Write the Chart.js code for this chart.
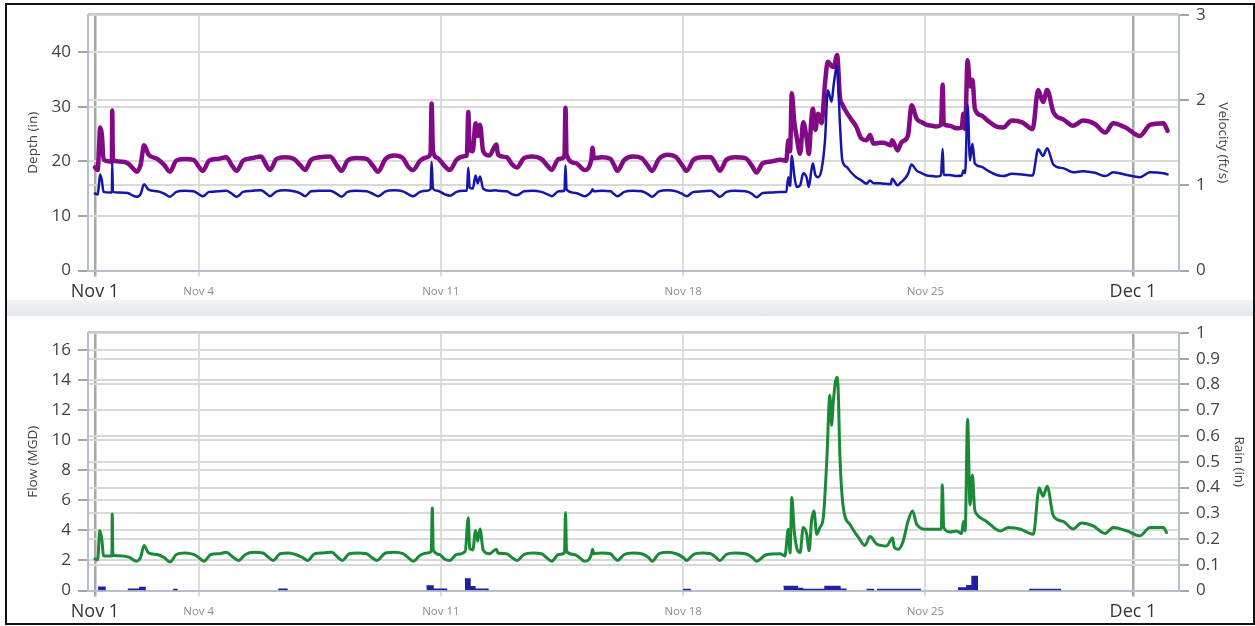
<!DOCTYPE html>
<html>
<head>
<meta charset="utf-8">
<script src="https://cdn.jsdelivr.net/npm/chart.js@4.4.1/dist/chart.umd.min.js"></script>
<style>
  html, body { margin: 0; padding: 0; background: #fff; }
  body { width: 1255px; height: 626px; position: relative; overflow: hidden; }
  #band { position: absolute; left: 7px; top: 300px; width: 1246px; height: 16px; background: linear-gradient(#f2f4f6, #e3e7eb); }
  #frame { position: absolute; left: 5px; top: 3px; width: 1250px; height: 622px; box-sizing: border-box; border: 2px solid #111; }
  canvas { position: absolute; left: 5px; }
  #top { top: 5px; }
  #bottom { top: 315px; }
</style>
</head>
<body>
<div id="band"></div>
<canvas id="top" width="1245" height="295"></canvas>
<canvas id="bottom" width="1245" height="307"></canvas>
<div id="frame"></div>
<script>
// days since Nov 1 00:00
const tickDays = [0, 3, 10, 17, 24, 30];
const tickLabels = ['Nov 1', 'Nov 4', 'Nov 11', 'Nov 18', 'Nov 25', 'Dec 1'];
const majorDays = [0, 30];

const depthTicks = [0, 10, 20, 30, 40];
const velocityTicks = [0, 1, 2, 3];
const flowTicks = [0, 2, 4, 6, 8, 10, 12, 14, 16];
const rainTicks = [0, 0.1, 0.2, 0.3, 0.4, 0.5, 0.6, 0.7, 0.8, 0.9, 1];

// top panel: depth (in) and velocity (ft/s)
const topDays = [
  0, 0.08, 0.12, 0.15, 0.2, 0.25, 0.45, 0.49, 0.5, 0.52,
  0.7, 0.95, 1.1, 1.2, 1.32, 1.42, 1.55, 1.8, 2, 2.17,
  2.35, 2.6, 2.85, 3, 3.12, 3.3, 3.55, 3.8, 3.95, 4.1,
  4.28, 4.55, 4.8, 4.95, 5.06, 5.25, 5.5, 5.75, 5.95, 6.07,
  6.25, 6.5, 6.8, 7, 7.13, 7.3, 7.55, 7.85, 8.05, 8.18,
  8.4, 8.65, 8.9, 9.05, 9.19, 9.4, 9.6, 9.7, 9.73, 9.77,
  9.9, 10.1, 10.26, 10.45, 10.65, 10.75, 10.79, 10.83, 10.92, 11,
  11.06, 11.13, 11.22, 11.4, 11.6, 11.65, 11.9, 12.05, 12.2, 12.4,
  12.65, 12.9, 13.1, 13.2, 13.4, 13.57, 13.6, 13.63, 13.9, 14.15,
  14.35, 14.38, 14.42, 14.65, 14.9, 15, 15.1, 15.3, 15.55, 15.8,
  15.98, 16.1, 16.3, 16.55, 16.8, 16.98, 17.1, 17.3, 17.55, 17.8,
  17.95, 18.06, 18.25, 18.5, 18.8, 19, 19.12, 19.3, 19.55, 19.8,
  19.98, 20.04, 20.09, 20.14, 20.21, 20.28, 20.38, 20.47, 20.57, 20.63,
  20.71, 20.75, 20.82, 20.9, 21, 21.1, 21.18, 21.29, 21.35, 21.45,
  21.53, 21.6, 21.72, 21.85, 22, 22.15, 22.3, 22.4, 22.5, 22.69,
  22.8, 23, 23.04, 23.2, 23.3, 23.36, 23.5, 23.6, 23.75, 23.9,
  24.04, 24.2, 24.32, 24.45, 24.5, 24.53, 24.7, 24.9, 25.05, 25.1,
  25.15, 25.22, 25.29, 25.36, 25.43, 25.62, 25.8, 26.06, 26.25, 26.5,
  26.8, 27.1, 27.26, 27.4, 27.52, 27.7, 28, 28.27, 28.56, 28.9,
  29.2, 29.43, 29.82, 30.2, 30.49, 30.88, 31
];
const depthIn = [
  14.1, 13.9, 16.0, 17.6, 16.5, 14.4, 14.3, 14.3, 19.6, 14.4,
  14.3, 14.2, 13.7, 13.5, 14.0, 15.8, 14.8, 14.5, 14.1, 13.5,
  14.4, 14.6, 14.5, 14.0, 13.6, 14.4, 14.5, 14.6, 14.1, 13.5,
  14.4, 14.6, 14.7, 14.1, 13.6, 14.5, 14.7, 14.5, 14.1, 13.6,
  14.5, 14.6, 14.6, 14.0, 13.5, 14.4, 14.6, 14.5, 14.0, 13.6,
  14.5, 14.7, 14.5, 14.0, 13.6, 14.4, 14.6, 14.9, 19.9, 15.0,
  14.6, 14.0, 13.7, 14.4, 14.6, 14.6, 18.8, 15.2, 15.0, 17.4,
  16.0, 17.2, 15.0, 14.6, 14.7, 14.6, 14.5, 14.0, 13.8, 14.5,
  14.6, 14.4, 13.9, 13.6, 14.5, 14.6, 19.3, 14.8, 14.2, 13.6,
  14.5, 14.9, 14.5, 14.6, 14.5, 14.0, 13.6, 14.4, 14.6, 14.5,
  14.0, 13.5, 14.5, 14.7, 14.5, 14.0, 13.6, 14.4, 14.5, 14.6,
  14.0, 13.5, 14.4, 14.6, 14.5, 14.0, 13.4, 14.2, 14.3, 14.4,
  14.4, 17.1, 15.5, 21.0, 17.5, 15.3, 15.6, 17.8, 17.0, 15.3,
  18.5, 19.6, 17.5, 17.1, 18.5, 23.9, 33.0, 30.9, 34.0, 37.5,
  27.0, 20.2, 19.0, 18.0, 17.1, 16.5, 15.9, 16.5, 16.0, 16.0,
  15.9, 15.8, 16.8, 15.6, 16.2, 16.5, 17.7, 19.4, 18.3, 17.8,
  17.4, 17.3, 17.2, 17.4, 22.3, 17.5, 17.5, 17.3, 17.4, 18.3,
  17.8, 30.3, 20.2, 23.2, 19.6, 19.0, 18.3, 17.5, 17.3, 17.7,
  17.6, 17.4, 22.2, 21.0, 22.4, 19.4, 18.7, 18.0, 18.2, 17.9,
  17.3, 18.0, 17.5, 17.1, 18.0, 17.8, 17.6
];
const velocityFtS = [
  1.21, 1.18, 1.45, 1.68, 1.60, 1.30, 1.28, 1.27, 1.88, 1.30,
  1.28, 1.26, 1.20, 1.16, 1.24, 1.47, 1.36, 1.31, 1.24, 1.16,
  1.29, 1.31, 1.30, 1.22, 1.17, 1.29, 1.31, 1.33, 1.24, 1.17,
  1.29, 1.32, 1.34, 1.24, 1.18, 1.31, 1.33, 1.31, 1.23, 1.18,
  1.30, 1.33, 1.34, 1.23, 1.17, 1.29, 1.32, 1.31, 1.22, 1.16,
  1.31, 1.35, 1.32, 1.22, 1.18, 1.29, 1.33, 1.38, 1.96, 1.40,
  1.32, 1.23, 1.18, 1.30, 1.34, 1.35, 1.86, 1.42, 1.40, 1.73,
  1.58, 1.71, 1.40, 1.35, 1.48, 1.36, 1.33, 1.25, 1.21, 1.32,
  1.34, 1.31, 1.22, 1.18, 1.31, 1.34, 1.91, 1.36, 1.26, 1.18,
  1.31, 1.44, 1.32, 1.33, 1.31, 1.24, 1.17, 1.30, 1.34, 1.32,
  1.23, 1.17, 1.31, 1.36, 1.33, 1.23, 1.17, 1.30, 1.33, 1.33,
  1.24, 1.17, 1.30, 1.33, 1.32, 1.22, 1.15, 1.26, 1.28, 1.30,
  1.29, 1.53, 1.40, 2.08, 1.75, 1.57, 1.37, 1.74, 1.55, 1.37,
  1.80, 1.90, 1.65, 1.84, 1.73, 2.20, 2.45, 2.40, 2.39, 2.53,
  2.04, 1.95, 1.86, 1.78, 1.69, 1.55, 1.53, 1.59, 1.49, 1.50,
  1.50, 1.47, 1.53, 1.41, 1.50, 1.52, 1.59, 1.94, 1.78, 1.74,
  1.71, 1.70, 1.69, 1.71, 2.18, 1.72, 1.70, 1.67, 1.68, 1.84,
  1.66, 2.47, 2.16, 2.24, 1.90, 1.82, 1.76, 1.69, 1.68, 1.76,
  1.74, 1.66, 2.12, 1.98, 2.12, 1.86, 1.77, 1.70, 1.76, 1.72,
  1.62, 1.73, 1.67, 1.58, 1.71, 1.73, 1.64
];

// bottom panel: flow (MGD)
const flowDays = [
  0, 0.08, 0.14, 0.2, 0.25, 0.49, 0.5, 0.52, 0.8, 1,
  1.2, 1.32, 1.42, 1.55, 1.8, 2, 2.17, 2.35, 2.6, 2.85,
  3, 3.15, 3.35, 3.6, 3.8, 3.95, 4.15, 4.35, 4.6, 4.85,
  5, 5.15, 5.35, 5.6, 5.8, 6, 6.15, 6.35, 6.6, 6.85,
  7, 7.15, 7.35, 7.6, 7.85, 8, 8.15, 8.4, 8.65, 8.9,
  9.05, 9.2, 9.4, 9.6, 9.72, 9.75, 9.78, 9.95, 10.1, 10.26,
  10.45, 10.7, 10.79, 10.83, 10.92, 11, 11.06, 11.13, 11.22, 11.4,
  11.6, 11.65, 11.9, 12.05, 12.2, 12.4, 12.65, 12.9, 13.05, 13.2,
  13.4, 13.57, 13.6, 13.63, 13.85, 14, 14.15, 14.35, 14.38, 14.42,
  14.65, 14.9, 15, 15.1, 15.3, 15.55, 15.8, 16, 16.1, 16.3,
  16.55, 16.8, 17, 17.1, 17.3, 17.55, 17.8, 17.95, 18.06, 18.25,
  18.5, 18.8, 19, 19.12, 19.4, 19.8, 19.94, 20.04, 20.09, 20.14,
  20.21, 20.28, 20.38, 20.47, 20.57, 20.64, 20.71, 20.78, 20.86, 20.95,
  21.05, 21.15, 21.24, 21.29, 21.34, 21.44, 21.48, 21.53, 21.63, 21.82,
  22.1, 22.25, 22.4, 22.59, 22.88, 23.05, 23.1, 23.22, 23.36, 23.5,
  23.63, 23.75, 24.04, 24.33, 24.46, 24.49, 24.53, 24.71, 24.9, 25.05,
  25.1, 25.15, 25.22, 25.29, 25.36, 25.42, 25.48, 25.77, 26.16, 26.4,
  26.73, 27.12, 27.29, 27.4, 27.52, 27.7, 27.98, 28.27, 28.51, 28.85,
  29.19, 29.43, 29.82, 30.2, 30.49, 30.88, 30.97
];
const flowMGD = [
  2.1, 2.05, 4.0, 3.4, 2.3, 2.3, 5.1, 2.35, 2.3, 2.2,
  1.95, 2.2, 3.0, 2.5, 2.4, 2.2, 1.9, 2.4, 2.5, 2.4,
  2.2, 1.95, 2.4, 2.45, 2.55, 2.3, 2.0, 2.4, 2.55, 2.5,
  2.25, 2.0, 2.45, 2.5, 2.4, 2.2, 2.0, 2.45, 2.5, 2.55,
  2.25, 2.0, 2.45, 2.5, 2.45, 2.2, 2.0, 2.5, 2.55, 2.45,
  2.2, 1.95, 2.35, 2.5, 2.6, 5.5, 2.7, 2.4, 2.1, 2.0,
  2.4, 2.6, 4.85, 2.8, 2.7, 4.0, 3.3, 4.1, 2.7, 2.45,
  2.75, 2.5, 2.45, 2.2, 2.0, 2.4, 2.5, 2.45, 2.2, 1.95,
  2.4, 2.5, 5.2, 2.6, 2.4, 2.2, 1.95, 2.4, 2.75, 2.45,
  2.5, 2.45, 2.2, 2.0, 2.4, 2.5, 2.45, 2.2, 1.95, 2.45,
  2.55, 2.45, 2.2, 2.0, 2.4, 2.5, 2.45, 2.2, 2.0, 2.4,
  2.5, 2.45, 2.2, 1.95, 2.38, 2.45, 2.3, 4.08, 2.5, 6.2,
  3.97, 2.86, 2.53, 4.19, 3.75, 2.64, 4.63, 5.3, 3.75, 4.19,
  4.85, 8.6, 13.0, 11.0, 12.6, 14.2, 13.4, 9.0, 5.5, 4.4,
  3.42, 3.0, 3.6, 3.1, 2.97, 3.5, 2.9, 2.75, 3.3, 4.63,
  5.3, 4.4, 4.08, 4.08, 4.1, 7.05, 4.2, 3.9, 3.97, 3.8,
  4.6, 3.97, 11.4, 5.7, 7.7, 5.5, 5.1, 4.6, 3.97, 4.2,
  4.1, 3.75, 6.83, 6.28, 6.94, 4.96, 4.6, 4.1, 4.5, 4.3,
  3.8, 4.2, 3.97, 3.64, 4.2, 4.2, 3.86
];

// rain (in), each value holds from its day mark until the next one
const rainDays = [
  0, 0.09, 0.29, 0.95, 1.3, 1.45, 2.26, 2.37, 5.3, 5.55,
  9.58, 9.77, 10.16, 10.69, 10.84, 10.98, 11.36, 17.0, 17.2, 19.9,
  20.3, 20.45, 21.1, 21.53, 21.7, 22.3, 22.5, 22.6, 23.85, 24.94,
  25.2, 25.35, 25.5, 27.0, 27.9, 31
];
const rainIn = [
  0, 0.013, 0, 0.005, 0.012, 0, 0.004, 0, 0.005, 0,
  0.017, 0.005, 0, 0.045, 0.015, 0.005, 0, 0.004, 0, 0.016,
  0.008, 0.004, 0.016, 0.005, 0, 0.004, 0, 0.004, 0, 0.01,
  0.018, 0.054, 0, 0.004, 0, 0
];

const FONT = '"Open Sans", sans-serif';
const isMajor = c => c.tick && majorDays.includes(c.tick.value);

const plotFrame = {
  id: 'plotFrame',
  beforeDraw(chart) {
    const { ctx, chartArea: a } = chart;
    ctx.save();
    ctx.fillStyle = '#fff';
    ctx.fillRect(a.left, a.top, a.right - a.left, a.bottom - a.top);
    ctx.restore();
  },
  afterDraw(chart) {
    const { ctx, chartArea: a } = chart;
    ctx.save();
    ctx.strokeStyle = '#c2ccd6';
    ctx.lineWidth = 2;
    ctx.beginPath();
    ctx.moveTo(a.left, a.top - 1);
    ctx.lineTo(a.right, a.top - 1);
    ctx.stroke();
    ctx.restore();
  }
};

function timeAxis(axisHeight) {
  return {
    type: 'linear',
    min: -0.2,
    max: 31.33,
    afterBuildTicks: s => { s.ticks = tickDays.map(v => ({ value: v })); },
    afterFit: s => { s.height = axisHeight; s.paddingLeft = 0; s.paddingRight = 0; },
    border: { display: true, color: '#b5c0cb', width: 2 },
    grid: {
      color: c => isMajor(c) ? '#a8a8a8' : '#dcdcdc',
      lineWidth: c => isMajor(c) ? 2.5 : 2,
      tickLength: 6
    },
    ticks: {
      padding: 5,
      maxRotation: 0,
      autoSkip: false,
      callback: v => tickLabels[tickDays.indexOf(v)],
      color: c => isMajor(c) ? '#333' : '#8c8c8c',
      font: c => isMajor(c)
        ? { family: FONT, size: 18, lineHeight: '20px' }
        : { family: FONT, size: 11.5, lineHeight: '20px' }
    }
  };
}

function valueAxis(position, ticks, max, width, title, titlePad) {
  return {
    type: 'linear',
    position: position,
    min: 0,
    max: max,
    afterBuildTicks: s => { s.ticks = ticks.map(v => ({ value: v })); },
    afterFit: s => { s.width = width; s.paddingTop = 0; s.paddingBottom = 0; },
    border: { display: true, color: '#b5c0cb', width: 2 },
    grid: { color: '#d9d9d9', lineWidth: 2, tickLength: 10, tickColor: '#a6a6a6' },
    ticks: { padding: 7, color: '#444', font: { family: FONT, size: 17 }, callback: v => String(v) },
    title: {
      display: true,
      text: title,
      color: '#444',
      font: { family: FONT, size: 13.5 },
      padding: { top: titlePad, bottom: 0 }
    }
  };
}

const points = (xs, ys) => xs.map((x, i) => ({ x: x, y: ys[i] }));

const lineStyle = { pointRadius: 0, borderJoinStyle: 'round', borderCapStyle: 'round', cubicInterpolationMode: 'monotone' };

new Chart(document.getElementById('top'), {
  type: 'line',
  data: {
    datasets: [
      Object.assign({
        label: 'Depth (in)',
        data: points(topDays, depthIn),
        yAxisID: 'depth',
        borderColor: '#1616aa',
        borderWidth: 2.5
      }, lineStyle),
      Object.assign({
        label: 'Velocity (ft/s)',
        data: points(topDays, velocityFtS),
        yAxisID: 'velocity',
        borderColor: '#820a84',
        borderWidth: 4.5
      }, lineStyle)
    ]
  },
  options: {
    responsive: false,
    animation: false,
    layout: { padding: { top: 10 } },
    plugins: { legend: { display: false }, tooltip: { enabled: false } },
    scales: {
      x: timeAxis(29.5),
      depth: valueAxis('left', depthTicks, 46.8, 83, 'Depth (in)', 20.4),
      velocity: valueAxis('right', velocityTicks, 3, 71, 'Velocity (ft/s)', 18.9)
    }
  },
  plugins: [plotFrame]
});

new Chart(document.getElementById('bottom'), {
  type: 'line',
  data: {
    datasets: [
      Object.assign({
        label: 'Flow (MGD)',
        data: points(flowDays, flowMGD),
        yAxisID: 'flow',
        borderColor: '#1a8a36',
        borderWidth: 3
      }, lineStyle),
      {
        label: 'Rain (in)',
        data: points(rainDays, rainIn),
        yAxisID: 'rain',
        stepped: 'before',
        fill: 'origin',
        backgroundColor: '#2121a0',
        borderColor: '#2121a0',
        borderWidth: 1.5,
        pointRadius: 0,
        segment: {
          borderColor: c => c.p0.parsed.y === 0 ? 'rgba(0,0,0,0)' : undefined
        }
      }
    ]
  },
  options: {
    responsive: false,
    animation: false,
    layout: { padding: { top: 18 } },
    plugins: { legend: { display: false }, tooltip: { enabled: false } },
    scales: {
      x: timeAxis(31.5),
      flow: valueAxis('left', flowTicks, 17.15, 83, 'Flow (MGD)', 20.4),
      rain: valueAxis('right', rainTicks, 1, 71, 'Rain (in)', 3.4)
    }
  },
  plugins: [plotFrame]
});
</script>
</body>
</html>
